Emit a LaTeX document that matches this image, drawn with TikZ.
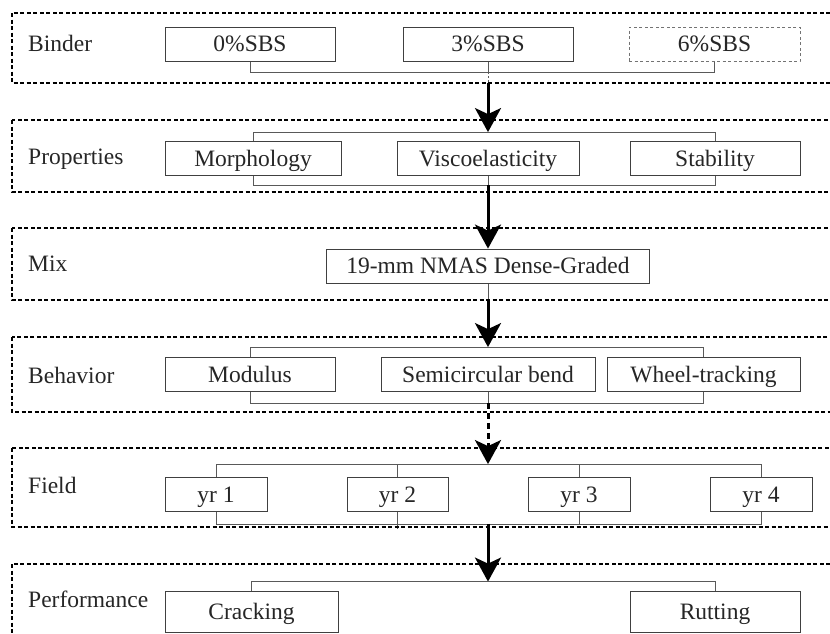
\documentclass[tikz,border=0pt]{standalone}
\usepackage{fontspec}
\setmainfont{Liberation Serif}
\usetikzlibrary{arrows.meta,backgrounds}

\begin{document}
\begin{tikzpicture}[x=1pt, y=-1pt, font=\fontsize{23.5}{28}\selectfont,
  item/.style={draw=black!75, fill=white, line width=0.8pt, minimum height=34pt, inner sep=0pt, text height=15.5pt, text depth=0pt, text=black!85},
  itemdash/.style={item, draw=black!55, dash pattern=on 3pt off 2.5pt},
  link/.style={draw=black!65, line width=0.8pt},
  flow/.style={line width=3pt, -{Stealth[length=24pt,width=26pt,inset=6pt]}},
  frame/.style={line width=2.1pt, dash pattern=on 4pt off 2.5pt},
  lbl/.style={anchor=base west, inner sep=0pt, text=black!85}]
\clip (0,0) rectangle (830,633);
% dashed frames
\foreach \t/\b in {13/83, 120/192, 228/300, 337/412, 448/527, 564/660}
  \draw[frame] (12,\t) rectangle (845,\b);
% row labels
\foreach \n/\y/\t in {binder/51/Binder, prop/164/Properties, mix/271/Mix, behav/383/Behavior, field/493/Field, perf/607/Performance}
  \node[lbl] (l\n) at (28,\y) {\t};

% Binder
\node[item, minimum width=170pt] (b0) at (250,44) {0\%SBS};
\node[item, minimum width=170pt] (b3) at (488,44) {3\%SBS};
\node[itemdash, minimum width=171pt] (b6) at (714.5,44) {6\%SBS};
% Properties
\node[item, minimum width=176pt] (p1) at (253,158.5) {Morphology};
\node[item, minimum width=182pt] (p2) at (488,158.5) {Viscoelasticity};
\node[item, minimum width=170pt] (p3) at (715,158.5) {Stability};
% Mix
\node[item, minimum width=323pt] (m1) at (488,266) {19-mm NMAS Dense-Graded};
% Behavior
\node[item, minimum width=170pt] (h1) at (250,374.5) {Modulus};
\node[item, minimum width=214pt] (h2) at (488,374.5) {Semicircular bend};
\node[item, minimum width=193pt] (h3) at (703.5,374.5) {Wheel-tracking};
% Field
\node[item, minimum width=102pt] (f1) at (216,494.5) {yr 1};
\node[item, minimum width=101pt] (f2) at (397.5,494.5) {yr 2};
\node[item, minimum width=102pt] (f3) at (579,494.5) {yr 3};
\node[item, minimum width=102pt] (f4) at (761,494.5) {yr 4};
% Performance
\node[item, minimum width=173pt, minimum height=41pt] (c1) at (251.5,611.5) {Cracking};
\node[item, minimum width=170pt, minimum height=41pt] (c2) at (715,611.5) {Rutting};

\coordinate (bout) at ([yshift=-11pt]b3.south);
\coordinate (fin) at ([yshift=13pt]f1.north);
\coordinate (fout) at ([yshift=-12pt]f1.south);
\coordinate (cin) at ([yshift=9pt]c1.north);

\begin{scope}[on background layer]
% Binder
\draw[link] (b0.south) -- (b0.south |- bout) -| (b6.south);
\draw[link] (b3.south) -- (bout);
\draw[link, dash pattern=on 2pt off 2pt] (bout) -- ++(0,11);
\draw[flow] ([yshift=-22pt]b3.south) -- ([yshift=9pt]p2.north);
% Properties
\draw[link] (p1.north) -- ++(0,-9) -| (p3.north);
\draw[link] (p1.south) -- ++(0,9) -| (p3.south);
\draw[link] (p2.south) -- ++(0,9);
\draw[flow] ([yshift=-9pt]p2.south) -- (m1.north);
% Mix
\draw[link] (m1.south) -- ++(0,17);
\draw[flow] ([yshift=-17pt]m1.south) -- ([yshift=10pt]h2.north);
% Behavior
\draw[link] (h1.north) -- ++(0,-10) -| (h3.north);
\draw[link] (h1.south) -- ++(0,11) -| (h3.south);
\draw[link] (h2.south) -- ++(0,11);
\draw[flow, dash pattern=on 6pt off 4pt] ([yshift=-11pt]h2.south) -- (h2.south |- fin);
% Field
\draw[link] (f1.north) -- (fin) -| (f4.north);
\draw[link] (f2.north) -- (f2.north |- fin);
\draw[link] (f3.north) -- (f3.north |- fin);
\draw[link] (f1.south) -- (fout) -| (f4.south);
\draw[link] (f2.south) -- ++(0,17);
\draw[link] (f3.south) -- (f3.south |- fout);
\draw[flow] (h2.south |- fout) -- (h2.south |- cin);
% Performance
\draw[link] (c1.north) -- (cin) -| (c2.north);
\end{scope}
\end{tikzpicture}
\end{document}
